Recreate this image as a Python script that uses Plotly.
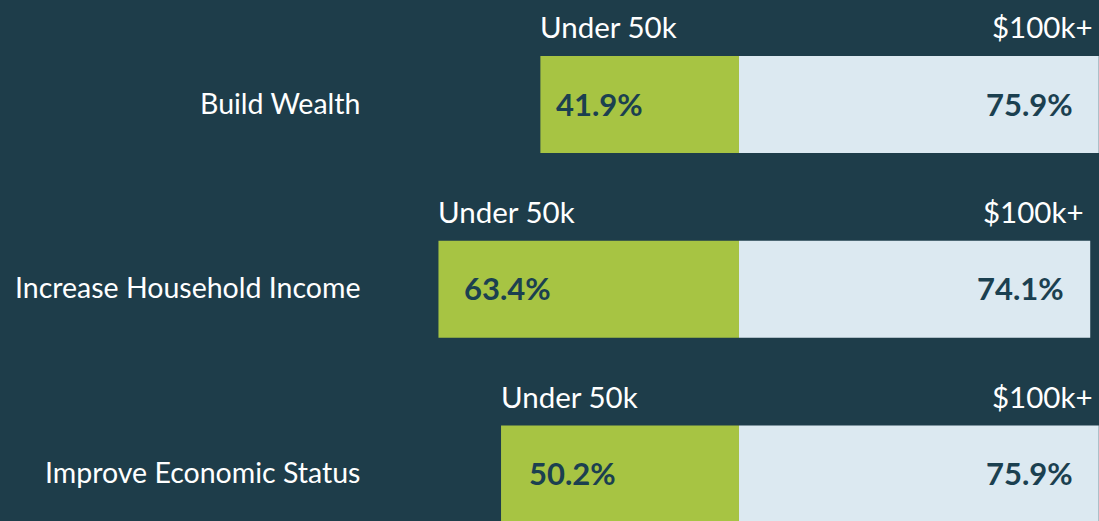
import plotly.graph_objects as go

# data
categories = ["Build Wealth", "Increase Household Income", "Improve Economic Status"]
under_50k = [41.9, 63.4, 50.2]
over_100k = [75.9, 74.1, 75.9]
low_label = "Under 50k"
high_label = "$100k+"

BG = "#1e3d4a"
GREEN = "#a7c443"
LIGHT = "#dce9f1"
DARK = "#1b4050"
FONT = "Lato"

# 4.74 px per percentage point, zero line at x=739px
x_range = [-155.9, 75.95]
y_range = [2.254, -0.566]
bar_w = 0.525
row_px = 184.75
low_pad = [16, 26, 28]

fig = go.Figure()

fig.add_trace(
    go.Bar(
        y=categories,
        x=[-v for v in under_50k],
        orientation="h",
        width=bar_w,
        marker=dict(color=GREEN, line=dict(width=0)),
        hoverinfo="skip",
    )
)
fig.add_trace(
    go.Bar(
        y=categories,
        x=over_100k,
        orientation="h",
        width=bar_w,
        marker=dict(color=LIGHT, line=dict(width=0)),
        hoverinfo="skip",
    )
)

annotations = []
for i, (cat, lo, hi) in enumerate(zip(categories, under_50k, over_100k)):
    # category name on the left
    annotations.append(
        dict(x=-79.6, y=i, xref="x", yref="y", text=cat, showarrow=False,
             xanchor="right", yanchor="middle", yshift=2,
             font=dict(family=FONT, size=28.5, color="white"))
    )
    # group headers above each bar
    annotations.append(
        dict(x=-lo, y=i, xref="x", yref="y", text=low_label, showarrow=False,
             xanchor="left", yanchor="middle", yshift=row_px * 0.42, xshift=-2,
             font=dict(family=FONT, size=29.5, color="white"))
    )
    annotations.append(
        dict(x=hi, y=i, xref="x", yref="y", text=high_label, showarrow=False,
             xanchor="right", yanchor="middle", yshift=row_px * 0.42, xshift=-4,
             font=dict(family=FONT, size=29.5, color="white"))
    )
    # values inside the bars
    annotations.append(
        dict(x=-lo, y=i, xref="x", yref="y", text=f"<b>{lo:.1f}%</b>", showarrow=False,
             xanchor="left", yanchor="middle", xshift=low_pad[i] - 2, yshift=1,
             font=dict(family=FONT, size=31, color=DARK))
    )
    annotations.append(
        dict(x=hi, y=i, xref="x", yref="y", text=f"<b>{hi:.1f}%</b>", showarrow=False,
             xanchor="right", yanchor="middle", xshift=-24, yshift=1,
             font=dict(family=FONT, size=31, color=DARK))
    )

fig.update_layout(
    width=1099,
    height=521,
    margin=dict(l=0, r=0, t=0, b=0),
    paper_bgcolor=BG,
    plot_bgcolor=BG,
    barmode="overlay",
    showlegend=False,
    xaxis=dict(range=x_range, visible=False, fixedrange=True),
    yaxis=dict(range=y_range, visible=False, fixedrange=True),
    annotations=annotations,
)

fig.write_html(
    "out.html",
    config=dict(displayModeBar=False),
    post_script="document.body.style.margin='0';document.body.style.background='" + BG + "';",
)
